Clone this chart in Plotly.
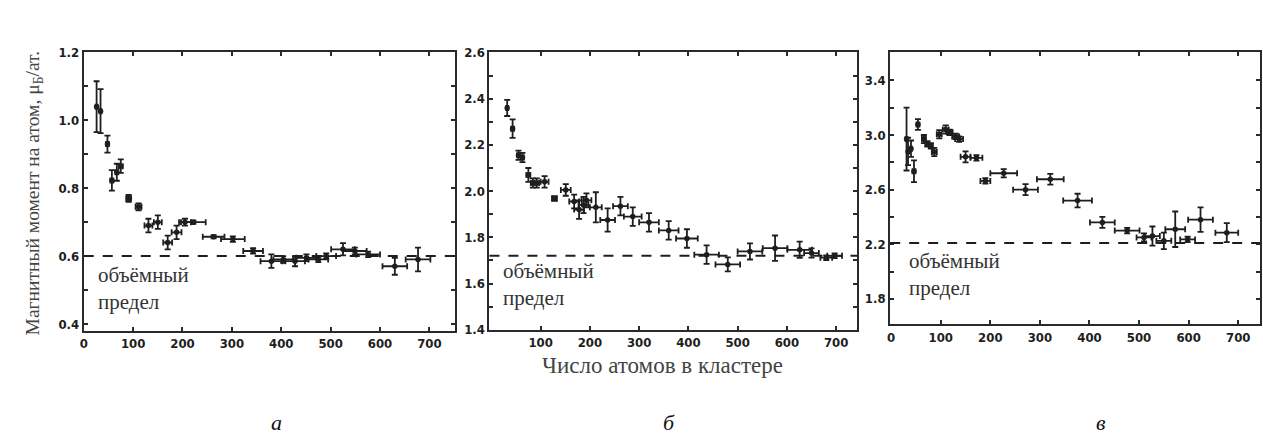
import plotly.graph_objects as go

W, H = 1263, 447

# ---- data: panel а ----
a_x = [26, 34, 48, 57, 67, 75, 91, 111, 131, 150, 170, 188, 205, 222, 263, 302, 343, 380, 404, 428, 451, 475, 491, 525, 549, 576, 630, 677]
a_y = [1.04, 1.027, 0.93, 0.823, 0.847, 0.865, 0.77, 0.745, 0.69, 0.70, 0.64, 0.67, 0.70, 0.70, 0.657, 0.65, 0.615, 0.585, 0.59, 0.585, 0.595, 0.59, 0.60, 0.62, 0.615, 0.605, 0.57, 0.59]
a_yerr = [0.075, 0.065, 0.025, 0.03, 0.025, 0.02, 0.01, 0.01, 0.02, 0.02, 0.02, 0.02, 0.01, 0.005, 0.005, 0.008, 0.008, 0.02, 0.01, 0.015, 0.01, 0.008, 0.008, 0.018, 0.01, 0.008, 0.025, 0.035]
a_xerr = [2, 2, 3, 3, 3, 4, 5, 6, 8, 8, 9, 10, 12, 25, 22, 24, 20, 22, 20, 20, 20, 20, 20, 24, 24, 24, 25, 25]
a_bulk = 0.6

# ---- data: panel б ----
b_x = [32, 43, 55, 63, 75, 84, 92, 108, 128, 151, 168, 178, 187, 193, 212, 236, 262, 287, 320, 360, 397, 437, 480, 525, 576, 626, 650, 680, 697]
b_y = [2.36, 2.27, 2.155, 2.145, 2.07, 2.035, 2.035, 2.04, 1.968, 2.005, 1.955, 1.92, 1.94, 1.96, 1.93, 1.875, 1.935, 1.89, 1.865, 1.83, 1.795, 1.725, 1.683, 1.739, 1.753, 1.746, 1.732, 1.712, 1.72]
b_yerr = [0.035, 0.04, 0.02, 0.02, 0.03, 0.02, 0.02, 0.025, 0.01, 0.025, 0.03, 0.04, 0.035, 0.03, 0.065, 0.05, 0.04, 0.04, 0.04, 0.04, 0.04, 0.04, 0.03, 0.035, 0.055, 0.035, 0.02, 0.01, 0.01]
b_xerr = [2, 3, 3, 3, 4, 4, 5, 8, 5, 10, 10, 10, 10, 10, 12, 15, 15, 18, 20, 20, 22, 25, 25, 25, 25, 25, 15, 12, 15]
b_bulk = 1.72

# ---- data: panel в ----
c_x = [31, 34, 40, 46, 54, 66, 73, 80, 87, 97, 110, 118, 130, 137, 150, 172, 190, 227, 271, 321, 376, 426, 476, 510, 527, 550, 573, 598, 624, 677]
c_y = [2.97, 2.88, 2.90, 2.735, 3.077, 2.97, 2.935, 2.92, 2.876, 3.006, 3.04, 3.02, 2.99, 2.97, 2.84, 2.833, 2.664, 2.72, 2.60, 2.676, 2.52, 2.36, 2.30, 2.25, 2.26, 2.225, 2.31, 2.235, 2.38, 2.285]
c_yerr = [0.23, 0.1, 0.06, 0.08, 0.04, 0.03, 0.02, 0.02, 0.03, 0.03, 0.03, 0.02, 0.02, 0.02, 0.04, 0.02, 0.02, 0.03, 0.04, 0.04, 0.05, 0.04, 0.02, 0.03, 0.07, 0.06, 0.13, 0.02, 0.09, 0.07]
c_xerr = [2, 2, 2, 3, 3, 4, 4, 4, 5, 5, 6, 6, 7, 8, 10, 12, 10, 27, 25, 27, 29, 25, 25, 15, 15, 15, 20, 15, 25, 23]
c_bulk = 2.21

a_xticks = [0, 100, 200, 300, 400, 500, 600, 700]
a_yticks = [0.4, 0.6, 0.8, 1.0, 1.2]
b_xticks = [100, 200, 300, 400, 500, 600, 700]
b_yticks = [1.4, 1.6, 1.8, 2.0, 2.2, 2.4, 2.6]
c_xticks = [0, 100, 200, 300, 400, 500, 600, 700]
c_yticks = [1.8, 2.2, 2.6, 3.0, 3.4]

y_title = "Магнитный момент на атом, μ<sub>Б</sub>/ат."
x_title = "Число атомов в кластере"
bulk_label = "объёмный<br>предел"
panel_labels = ["а", "б", "в"]

INK = "#1e1e1e"
SERIF = "Liberation Serif, Times New Roman, serif"
TICKFONT = dict(family="Liberation Sans Narrow, DejaVu Sans Condensed, Arial Narrow, sans-serif",
                size=13, color=INK, weight="bold")


def px_x(p):
    return p / W


def px_y(p):
    return 1 - p / H


# panel boxes in pixels: (left, right, top, bottom)
boxes = [(80, 452, 47, 335), (487, 856, 47, 334), (889, 1260, 47, 328)]
xranges = [[0, 751], [-4, 743], [-2, 744]]
yranges = [[0.38, 1.2], [1.4, 2.6], [1.616, 3.605]]
xticks = [a_xticks, b_xticks, c_xticks]
yticks = [a_yticks, b_yticks, c_yticks]
ydtick_minor = [0.1, 0.1, 0.2]
series = [(a_x, a_y, a_xerr, a_yerr), (b_x, b_y, b_xerr, b_yerr), (c_x, c_y, c_xerr, c_yerr)]
bulks = [a_bulk, b_bulk, c_bulk]
label_pos = [(92, 275), (499, 271), (906, 260)]
panel_label_x = [273, 667, 1100]

fig = go.Figure()
layout = dict(
    width=W, height=H, margin=dict(l=0, r=0, t=0, b=0),
    paper_bgcolor="white", plot_bgcolor="white", showlegend=False,
    shapes=[], annotations=[],
)

for i in range(3):
    sfx = "" if i == 0 else str(i + 1)
    L, R, T, B = boxes[i]
    xs, ys, xe, ye = series[i]
    fig.add_trace(go.Scatter(
        x=xs, y=ys, mode="markers", xaxis="x" + sfx, yaxis="y" + sfx,
        marker=dict(color=INK, size=5.5),
        error_y=dict(type="data", array=ye, visible=True, color=INK, thickness=1.8, width=3),
        error_x=dict(type="data", array=xe, visible=True, color=INK, thickness=1.8, width=3),
        hoverinfo="skip",
    ))
    common = dict(showgrid=False, zeroline=False, showline=True, linecolor="#2a2a2a", linewidth=2,
                  mirror="ticks", ticks="inside", ticklen=4, tickwidth=2, tickcolor="#2a2a2a",
                  tickfont=TICKFONT)
    layout["xaxis" + sfx] = dict(
        common, domain=[px_x(L), px_x(R)], range=xranges[i], anchor="y" + sfx,
        tickmode="array", tickvals=xticks[i], ticktext=[str(v) for v in xticks[i]],
    )
    layout["yaxis" + sfx] = dict(
        common, domain=[px_y(B), px_y(T)], range=yranges[i], anchor="x" + sfx,
        tickmode="array", tickvals=yticks[i], ticktext=["%.1f" % v for v in yticks[i]],
        minor=dict(dtick=ydtick_minor[i], ticks="inside", ticklen=4, tickwidth=2, tickcolor="#2a2a2a"),
    )
    layout["shapes"].append(dict(
        type="line", xref="x" + sfx + " domain", yref="y" + sfx, x0=0, x1=1,
        y0=bulks[i], y1=bulks[i], line=dict(color=INK, width=2, dash="10px,9px"),
    ))
    lx, ly = label_pos[i]
    layout["annotations"].append(dict(
        xref="paper", yref="paper", x=px_x(lx), y=px_y(ly - 12), xanchor="left", yanchor="top",
        text=bulk_label, showarrow=False, align="left",
        font=dict(family=SERIF, size=21, color="#333"),
    ))
    layout["annotations"].append(dict(
        xref="paper", yref="paper", x=px_x(panel_label_x[i]), y=px_y(430),
        xanchor="center", yanchor="middle",
        text="<i>%s</i>" % panel_labels[i], showarrow=False,
        font=dict(family=SERIF, size=22, color="#111"),
    ))

layout["annotations"].append(dict(
    xref="paper", yref="paper", x=px_x(30), y=px_y(193), textangle=-90,
    xanchor="center", yanchor="middle",
    text=y_title, showarrow=False, font=dict(family=SERIF, size=19.5, color="#444"),
))
layout["annotations"].append(dict(
    xref="paper", yref="paper", x=px_x(661), y=px_y(371),
    xanchor="center", yanchor="middle",
    text=x_title, showarrow=False, font=dict(family=SERIF, size=23, color="#444"),
))

fig.update_layout(**layout)
fig.write_html("out.html")
